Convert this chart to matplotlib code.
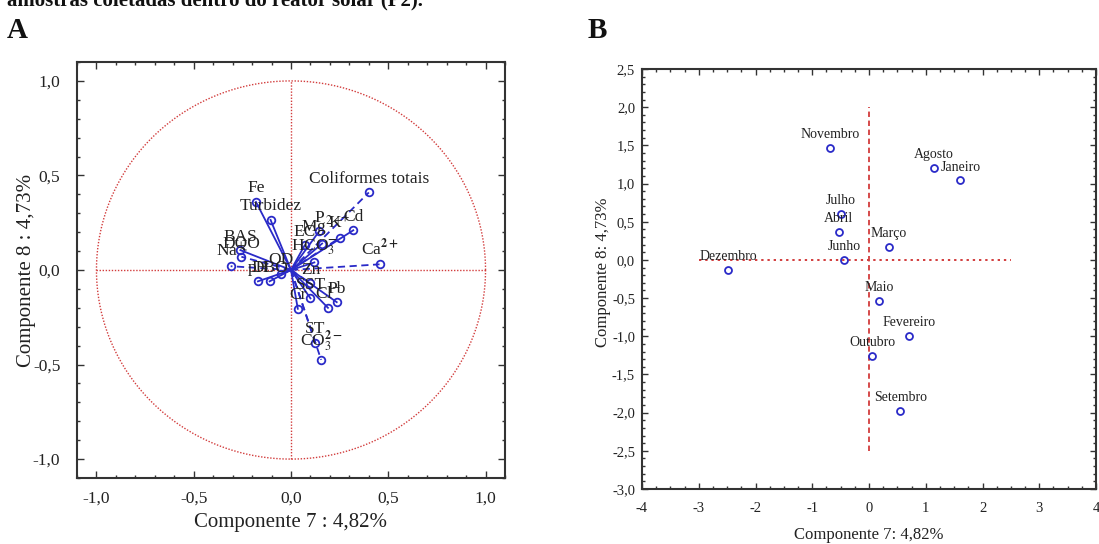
import numpy as np
import matplotlib
matplotlib.use("Agg")
import matplotlib.pyplot as plt
from matplotlib.ticker import MultipleLocator, FuncFormatter

plt.rcParams["font.family"] = ["Liberation Serif", "DejaVu Serif"]
plt.rcParams["mathtext.fontset"] = "stix"

# ---- Panel A: variable loadings on components 7 and 8 ----
variables = ["Coliformes totais", "Cd", "K$^{+}$", "P", "EC", "Mg$^{2+}$",
             "HCO$_3^{\\mathbf{-}}$", "Ca$^{\\mathbf{2+}}$", "Fe", "Turbidez",
             "BAS", "DQO", "Na$^{+}$", "pH", "DBO", "OD", "Zn", "SST", "Pb",
             "Cr", "Cl$^{-}$", "ST", "CO$_3^{\\mathbf{2-}}$"]
load_c7 = [0.40, 0.32, 0.25, 0.145, 0.07, 0.16, 0.12, 0.455, -0.18, -0.105,
           -0.26, -0.255, -0.31, -0.17, -0.11, -0.05, 0.10, 0.10, 0.235,
           0.035, 0.19, 0.125, 0.155]
load_c8 = [0.41, 0.21, 0.17, 0.205, 0.13, 0.14, 0.04, 0.03, 0.36, 0.265,
           0.105, 0.07, 0.02, -0.06, -0.06, -0.02, -0.07, -0.15, -0.17,
           -0.205, -0.20, -0.385, -0.475]
dashed_vars = {"Coliformes totais", "K$^{+}$", "Ca$^{\\mathbf{2+}}$", "Na$^{+}$",
               "ST", "CO$_3^{\\mathbf{2-}}$", "Zn", "DQO"}

# ---- Panel B: monthly sample scores ----
months = ["Novembro", "Agosto", "Janeiro", "Julho", "Abril", "Março", "Junho",
          "Dezembro", "Maio", "Fevereiro", "Outubro", "Setembro"]
score_c7 = [-0.68, 1.15, 1.61, -0.50, -0.53, 0.35, -0.44, -2.48, 0.18, 0.70,
            0.06, 0.55]
score_c8 = [1.46, 1.20, 1.04, 0.60, 0.36, 0.17, 0.00, -0.13, -0.54, -1.00,
            -1.26, -1.98]

xlabel_text = "Componente 7 : 4,82%"
ylabel_text = "Componente 8 : 4,73%"
xlabel_text_b = "Componente 7: 4,82%"
ylabel_text_b = "Componente 8: 4,73%"

W, H = 1099, 544
fig = plt.figure(figsize=(W / 100, H / 100), dpi=100)


def frac(x0, y0, x1, y1):
    return [x0 / W, 1 - y1 / H, (x1 - x0) / W, (y1 - y0) / H]


def comma(decimals):
    return FuncFormatter(lambda v, p: f"{v:.{decimals}f}".replace(".", ","))


blue = "#2a2ac8"
red = "#d23c3c"
grey = "#333333"
ink = "#222222"

# Panel A
axA = fig.add_axes(frac(77, 62, 505, 478))
theta = np.linspace(0, 2 * np.pi, 400)
axA.plot(np.cos(theta), np.sin(theta), ls=(0, (1, 1.2)), color=red, lw=1.0)
axA.plot([-1, 1], [0, 0], ls=(0, (1, 1.2)), color=red, lw=1.0)
axA.plot([0, 0], [-1, 1], ls=(0, (1, 1.2)), color=red, lw=1.0)
for name, x, y in zip(variables, load_c7, load_c8):
    ls = (0, (4, 2.5)) if name in dashed_vars else "-"
    axA.plot([0, x], [0, y], color=blue, lw=1.3, ls=ls)
    axA.plot([x], [y], marker="o", ms=5.5, mfc="none", mec=blue, mew=1.3)
    axA.annotate(name, (x, y), xytext=(0, 4), textcoords="offset points",
                 ha="center", va="bottom", fontsize=12.5, color=ink)
axA.set_xlim(-1.1, 1.1)
axA.set_ylim(-1.1, 1.1)
axA.xaxis.set_major_locator(MultipleLocator(0.5))
axA.yaxis.set_major_locator(MultipleLocator(0.5))
axA.xaxis.set_minor_locator(MultipleLocator(0.1))
axA.yaxis.set_minor_locator(MultipleLocator(0.1))
axA.xaxis.set_major_formatter(comma(1))
axA.yaxis.set_major_formatter(comma(1))
axA.tick_params(which="both", direction="in", top=True, right=True,
                color=grey, width=1.0)
axA.tick_params(which="major", length=5)
axA.tick_params(which="minor", length=2.5)
axA.tick_params(axis="x", which="major", labelsize=12.5, pad=9, labelcolor=ink)
axA.tick_params(axis="y", which="major", labelsize=12.5, pad=12, labelcolor=ink)
for s in axA.spines.values():
    s.set_linewidth(1.5)
    s.set_color(grey)
fig.text(291 / W, 1 - 523 / H, xlabel_text, ha="center", va="center",
         fontsize=15, color=ink)
fig.text(27 / W, 1 - 270 / H, ylabel_text, ha="center", va="center",
         rotation=90, fontsize=15, color=ink)

# Panel B
axB = fig.add_axes(frac(642, 69, 1096, 489))
axB.plot([-3, 2.5], [0, 0], ls=(0, (1.2, 2)), color=red, lw=1.4)
axB.plot([0, 0], [-2.5, 2.0], ls=(0, (3, 2)), color=red, lw=1.3)
axB.plot(score_c7, score_c8, ls="none", marker="o", ms=5, mfc="none",
         mec=blue, mew=1.3)
for name, x, y in zip(months, score_c7, score_c8):
    axB.annotate(name, (x, y), xytext=(0, 5), textcoords="offset points",
                 ha="center", va="bottom", fontsize=10, color=ink)
axB.set_xlim(-4, 4)
axB.set_ylim(-3.0, 2.5)
axB.xaxis.set_major_locator(MultipleLocator(1))
axB.xaxis.set_minor_locator(MultipleLocator(0.25))
axB.yaxis.set_major_locator(MultipleLocator(0.5))
axB.yaxis.set_minor_locator(MultipleLocator(0.1))
axB.xaxis.set_major_formatter(FuncFormatter(lambda v, p: f"{v:.0f}"))
axB.yaxis.set_major_formatter(comma(1))
axB.tick_params(which="both", direction="in", top=True, right=True,
                color=grey, width=1.0)
axB.tick_params(which="major", length=4)
axB.tick_params(which="minor", length=2)
axB.tick_params(axis="x", which="major", labelsize=10.5, pad=9, labelcolor=ink)
axB.tick_params(axis="y", which="major", labelsize=10.5, pad=5, labelcolor=ink)
for s in axB.spines.values():
    s.set_linewidth(1.5)
    s.set_color(grey)
fig.text(869 / W, 1 - 535 / H, xlabel_text_b, ha="center", va="center",
         fontsize=12, color=ink)
fig.text(603 / W, 1 - 272 / H, ylabel_text_b, ha="center", va="center",
         rotation=90, fontsize=12, color=ink)

# Caption fragment and panel letters
fig.text(7 / W, 1 - 5 / H, "amostras coletadas dentro do reator solar (P2).",
         ha="left", va="baseline", fontsize=15, fontweight="bold", color="#111111")
fig.text(7 / W, 1 - 38 / H, "A", ha="left", va="baseline", fontsize=21,
         fontweight="bold", color="#111111")
fig.text(588 / W, 1 - 38 / H, "B", ha="left", va="baseline", fontsize=21,
         fontweight="bold", color="#111111")

fig.savefig("out.png", dpi=100)
